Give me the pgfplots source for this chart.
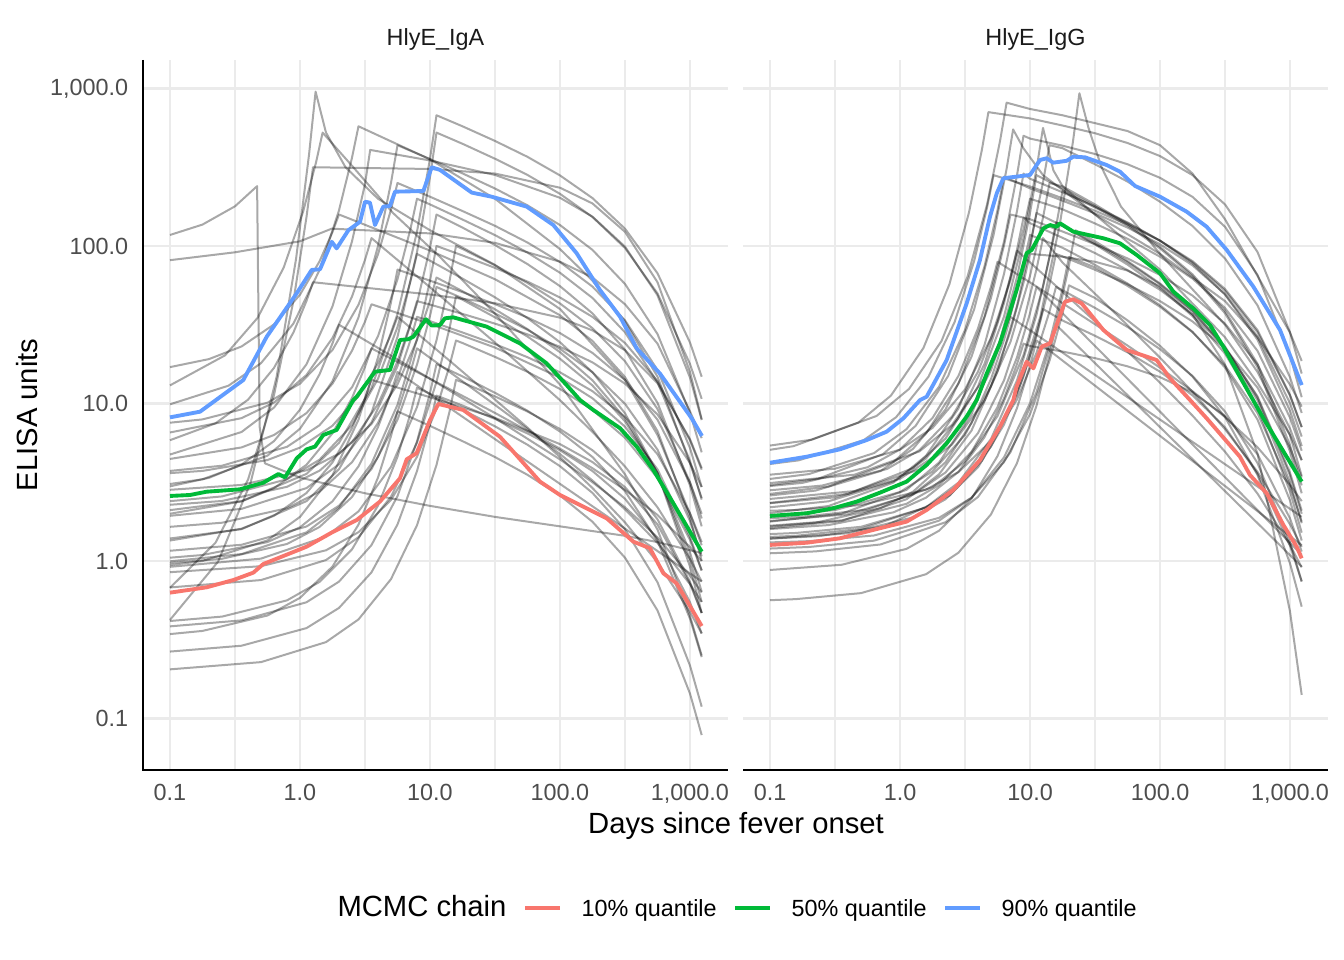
\documentclass[border=0pt]{standalone}
\usepackage{fontspec}
\setmainfont{Liberation Sans}
\usepackage{pgfplots}
\pgfplotsset{compat=1.18}
\definecolor{qred}{HTML}{F8766D}
\definecolor{qgreen}{HTML}{00BA38}
\definecolor{qblue}{HTML}{619CFF}
\definecolor{gridc}{HTML}{EBEBEB}
\definecolor{tickc}{HTML}{4D4D4D}
\definecolor{stripc}{HTML}{1A1A1A}
\pgfplotsset{
  panel/.style={
    anchor=south west, width=219.375bp, height=266.25bp, scale only axis,
    xmin=-1.2077, xmax=3.2923, ymin=-1.327, ymax=3.181,
    axis line style={draw=none},
    major tick length=0pt, minor tick length=0pt,
    xtick={-1,0,1,2,3},
    xticklabels={0.1,1.0,10.0,100.0,{1,000.0}},
    minor xtick={-0.5,0.5,1.5,2.5},
    ytick={-1,0,1,2,3},
    grid=both,
    major grid style={gridc, line width=1.0bp},
    minor grid style={gridc, line width=0.55bp},
    xticklabel style={font=\fontsize{8.8}{10}\selectfont, text=tickc, inner sep=0pt, anchor=north, yshift=-5.1bp},
    yticklabel style={font=\fontsize{8.8}{10}\selectfont, text=tickc, inner sep=0pt, anchor=east, xshift=-5.4bp},
  },
  chain/.style={black, opacity=0.34, line width=0.75bp, mark=none, line join=round},
  qlow/.style={qred, line width=1.45bp, mark=none, line join=round},
  qmid/.style={qgreen, line width=1.45bp, mark=none, line join=round},
  qhigh/.style={qblue, line width=1.45bp, mark=none, line join=round},
}
\begin{document}
\begin{tikzpicture}
\useasboundingbox (0,0) rectangle (504bp,360bp);
% ---------------- left panel: HlyE_IgA ----------------
\begin{axis}[panel, at={(53.625bp,71.25bp)},
  yticklabels={0.1,1.0,10.0,100.0,{1,000.0}}]
\addplot[chain] coordinates {(-1,2.07)(-0.75,2.136)(-0.5,2.252)(-0.33,2.38)(-0.31,0.85)(-0.27,0.62)(0,0.53)(0.5,0.43)(1,0.35)(1.5,0.28)(2,0.22)(2.5,0.16)(2.75,0.12)(3.09,0.05)};
\addplot[chain] coordinates {(-1,-0.374)(-0.63,-0.004)(-0.38,0.497)(-0.18,1.169)(-0.03,1.92)(0.07,2.584)(0.12,2.98)(0.2,2.72)(0.35,2.5)(0.6,2.3)(1,2.1)(1.5,1.88)(2,1.6)(2.5,1.15)(2.75,0.8)(3,0.3)(3.09,0.1)};
\addplot[chain] coordinates {(-1,1.115)(-0.576,1.306)(-0.326,1.544)(-0.126,1.862)(0.024,2.218)(0.124,2.533)(0.174,2.72)(0.41,2.5)(0.715,2.21)(1.077,1.93)(1.5,1.57)(2,1.12)(2.5,0.55)(2.75,0.2)(3,-0.35)(3.09,-0.6)};
\addplot[chain] coordinates {(-1,0.995)(-0.55,1.113)(-0.3,1.256)(-0.05,1.508)(0.15,1.847)(0.3,2.226)(0.4,2.561)(0.45,2.76)(1,2.55)(1.5,2.3)(2,1.98)(2.25,1.78)(2.5,1.52)(2.75,1.17)(3,0.62)(3.09,0.4)};
\addplot[chain] coordinates {(-1,-0.17)(-0.65,0.116)(-0.4,0.516)(-0.2,1.053)(-0.05,1.653)(0.05,2.184)(0.1,2.5)(1,2.489)(1.5,2.46)(2,2.37)(2.25,2.27)(2.5,2.09)(2.75,1.77)(3,1.2)(3.09,0.9)};
\addplot[chain] coordinates {(-1,0.676)(-0.45,0.819)(-0.2,0.974)(0.05,1.249)(0.25,1.617)(0.4,2.029)(0.5,2.393)(0.54,2.61)(1,2.543)(1.5,2.451)(2,2.306)(2.25,2.186)(2.5,1.996)(2.75,1.687)(3,1.164)(3.09,0.895)};
\addplot[chain] coordinates {(-1,0.489)(-0.75,0.519)(-0.25,0.669)(0,0.84)(0.25,1.142)(0.45,1.547)(0.6,2.0)(0.7,2.401)(0.75,2.64)(1,2.552)(1.25,2.461)(1.5,2.365)(1.75,2.258)(2,2.133)(2.25,1.975)(2.5,1.759)(2.75,1.441)(3,0.94)(3.09,0.69)};
\addplot[chain] coordinates {(-1,0.323)(-0.45,0.38)(0.05,0.553)(0.3,0.75)(0.55,1.099)(0.75,1.568)(0.9,2.091)(1,2.554)(1.05,2.83)(1.25,2.76)(1.5,2.667)(1.75,2.566)(2,2.448)(2.25,2.304)(2.5,2.11)(2.75,1.827)(3,1.387)(3.09,1.17)};
\addplot[chain] coordinates {(-1,0.143)(-0.45,0.202)(0.05,0.38)(0.3,0.583)(0.55,0.942)(0.75,1.423)(0.9,1.961)(1,2.437)(1.05,2.72)(1.25,2.649)(1.5,2.554)(1.75,2.451)(2,2.331)(2.25,2.184)(2.5,1.987)(2.75,1.699)(3,1.251)(3.09,1.03)};
\addplot[chain] coordinates {(-1,0.878)(-0.75,0.899)(-0.25,1.005)(0,1.126)(0.25,1.34)(0.45,1.627)(0.6,1.947)(0.7,2.231)(0.75,2.4)(1,2.313)(1.25,2.222)(1.5,2.128)(1.75,2.022)(2,1.898)(2.25,1.742)(2.5,1.528)(2.75,1.213)(3,0.717)(3.09,0.47)};
\addplot[chain] coordinates {(-1,1.91)(-0.5,1.96)(0,2.03)(0.244,2.11)(1,2.08)(1.5,2.02)(2,1.9)(2.25,1.8)(2.5,1.63)(2.75,1.38)(3,0.95)(3.09,0.78)};
\addplot[chain] coordinates {(-1,0.572)(-0.6,0.605)(-0.1,0.725)(0.15,0.862)(0.4,1.103)(0.6,1.427)(0.75,1.789)(0.85,2.109)(0.9,2.3)(1,2.264)(1.25,2.168)(1.5,2.069)(1.75,1.958)(2,1.83)(2.25,1.67)(2.5,1.452)(2.75,1.135)(3,0.636)(3.09,0.39)};
\addplot[chain] coordinates {(-1,0.287)(-0.45,0.331)(0.05,0.463)(0.3,0.614)(0.55,0.88)(0.75,1.237)(0.9,1.636)(1,1.99)(1.05,2.2)(1.25,2.117)(1.5,2.006)(1.75,1.885)(2,1.745)(2.25,1.572)(2.5,1.341)(2.75,1.004)(3,0.479)(3.09,0.22)};
\addplot[chain] coordinates {(-1,0.816)(-0.45,0.907)(-0.2,1.006)(0.05,1.181)(0.25,1.416)(0.4,1.679)(0.5,1.912)(0.55,2.05)(1,1.738)(1.5,1.387)(2,1.021)(2.25,0.82)(2.5,0.6)(2.75,0.341)(3,0.012)(3.09,-0.13)};
\addplot[chain] coordinates {(-1,0.38)(-0.6,0.41)(-0.1,0.519)(0.15,0.643)(0.4,0.862)(0.6,1.157)(0.75,1.486)(0.85,1.777)(0.9,1.95)(1,1.907)(1.25,1.793)(1.5,1.674)(1.75,1.542)(2,1.389)(2.25,1.198)(2.5,0.938)(2.75,0.559)(3,-0.036)(3.09,-0.33)};
\addplot[chain] coordinates {(-1,-0.037)(-0.3,0.015)(0.2,0.155)(0.45,0.315)(0.7,0.598)(0.9,0.977)(1.05,1.401)(1.15,1.777)(1.2,2.0)(1.25,1.981)(1.5,1.877)(1.75,1.765)(2,1.635)(2.25,1.478)(2.5,1.268)(2.75,0.965)(3,0.5)(3.09,0.27)};
\addplot[chain] coordinates {(-1,0.767)(-0.65,0.874)(-0.4,1.024)(-0.2,1.226)(-0.05,1.452)(0.05,1.651)(0.1,1.77)(1,1.692)(1.5,1.637)(2,1.545)(2.25,1.464)(2.5,1.338)(2.75,1.129)(3,0.774)(3.09,0.59)};
\addplot[chain] coordinates {(-1,0.648)(-0.45,0.721)(-0.2,0.8)(0.05,0.939)(0.25,1.126)(0.4,1.335)(0.5,1.52)(0.55,1.63)(1,1.505)(1.5,1.355)(2,1.164)(2.25,1.033)(2.5,0.853)(2.75,0.582)(3,0.153)(3.09,-0.06)};
\addplot[chain] coordinates {(-1,0.452)(-0.45,0.483)(0.05,0.576)(0.3,0.682)(0.55,0.87)(0.75,1.121)(0.9,1.403)(1,1.652)(1.05,1.8)(1.25,1.713)(1.5,1.598)(1.75,1.472)(2,1.326)(2.25,1.147)(2.5,0.906)(2.75,0.556)(3,0.01)(3.09,-0.26)};
\addplot[chain] coordinates {(-1,0.065)(-0.45,0.103)(0.05,0.219)(0.3,0.351)(0.55,0.584)(0.75,0.897)(0.9,1.247)(1,1.556)(1.05,1.74)(1.25,1.668)(1.5,1.572)(1.75,1.468)(2,1.347)(2.25,1.198)(2.5,0.998)(2.75,0.707)(3,0.254)(3.09,0.03)};
\addplot[chain] coordinates {(-1,-0.168)(-0.3,-0.121)(0.2,0.006)(0.45,0.151)(0.7,0.408)(0.9,0.752)(1.05,1.137)(1.15,1.477)(1.2,1.68)(1.25,1.659)(1.5,1.547)(1.75,1.425)(2,1.284)(2.25,1.114)(2.5,0.887)(2.75,0.559)(3,0.054)(3.09,-0.195)};
\addplot[chain] coordinates {(-1,0.558)(-0.75,0.572)(-0.25,0.641)(0,0.72)(0.25,0.859)(0.45,1.046)(0.6,1.255)(0.7,1.44)(0.75,1.55)(1,1.377)(1.25,1.202)(1.5,1.025)(1.75,0.847)(2,0.66)(2.25,0.463)(2.5,0.245)(2.75,-0.008)(3,-0.323)(3.09,-0.46)};
\addplot[chain] coordinates {(-1,-0.464)(-0.75,-0.444)(-0.25,-0.346)(0,-0.234)(0.25,-0.035)(0.45,0.231)(0.6,0.53)(0.7,0.793)(0.75,0.95)(1,0.858)(1.25,0.761)(1.5,0.66)(1.75,0.547)(2,0.416)(2.25,0.249)(2.5,0.021)(2.75,-0.314)(3,-0.842)(3.09,-1.105)};
\addplot[chain] coordinates {(-1,-0.381)(-0.6,-0.353)(-0.1,-0.25)(0.15,-0.133)(0.4,0.074)(0.6,0.352)(0.75,0.662)(0.85,0.937)(0.9,1.1)(1,1.062)(1.25,0.96)(1.5,0.855)(1.75,0.738)(2,0.602)(2.25,0.432)(2.5,0.201)(2.75,-0.135)(3,-0.664)(3.09,-0.925)};
\addplot[chain] coordinates {(-1,-0.415)(-0.45,-0.377)(0.05,-0.262)(0.3,-0.131)(0.55,0.101)(0.75,0.412)(0.9,0.759)(1,1.067)(1.05,1.25)(1.25,1.172)(1.5,1.068)(1.75,0.954)(2,0.822)(2.25,0.66)(2.5,0.443)(2.75,0.127)(3,-0.366)(3.09,-0.61)};
\addplot[chain] coordinates {(-1,-0.575)(-0.45,-0.538)(0.05,-0.426)(0.3,-0.298)(0.55,-0.072)(0.75,0.232)(0.9,0.571)(1,0.871)(1.05,1.05)(1.25,0.987)(1.5,0.902)(1.75,0.81)(2,0.703)(2.25,0.571)(2.5,0.395)(2.75,0.138)(3,-0.262)(3.09,-0.46)};
\addplot[chain] coordinates {(-1,-0.688)(-0.3,-0.642)(0.2,-0.515)(0.45,-0.371)(0.7,-0.115)(0.9,0.227)(1.05,0.61)(1.15,0.948)(1.2,1.15)(1.25,1.134)(1.5,1.045)(1.75,0.949)(2,0.838)(2.25,0.703)(2.5,0.524)(2.75,0.265)(3,-0.133)(3.09,-0.33)};
\addplot[chain] coordinates {(-1,-0.013)(-0.6,0.014)(-0.1,0.108)(0.15,0.216)(0.4,0.406)(0.6,0.661)(0.75,0.947)(0.85,1.2)(0.9,1.35)(1,1.29)(1.25,1.141)(1.5,0.991)(1.75,0.838)(2,0.679)(2.25,0.511)(2.5,0.328)(2.75,0.115)(3,-0.147)(3.09,-0.26)};
\addplot[chain] coordinates {(-1,-0.071)(-0.3,-0.033)(0.2,0.068)(0.45,0.183)(0.7,0.388)(0.9,0.661)(1.05,0.968)(1.15,1.239)(1.2,1.4)(1.25,1.384)(1.5,1.296)(1.75,1.201)(2,1.092)(2.25,0.959)(2.5,0.782)(2.75,0.527)(3,0.134)(3.09,-0.06)};
\addplot[chain] coordinates {(-1,0.021)(-0.75,0.038)(-0.25,0.12)(0,0.214)(0.25,0.379)(0.45,0.601)(0.6,0.85)(0.7,1.069)(0.75,1.2)(3.09,-0.13)};
\addplot[chain] coordinates {(-1,0.3)(-0.45,0.378)(-0.2,0.462)(0.05,0.611)(0.25,0.811)(0.4,1.035)(0.5,1.232)(0.55,1.35)(1,1.157)(1.5,0.94)(2,0.713)(2.25,0.589)(2.5,0.452)(2.75,0.292)(3,0.088)(3.09,0)};
\addplot[chain] coordinates {(-1,0.357)(-0.6,0.381)(-0.1,0.471)(0.15,0.573)(0.4,0.754)(0.6,0.996)(0.75,1.267)(0.85,1.507)(0.9,1.65)(1,1.628)(1.25,1.569)(1.5,1.507)(1.75,1.439)(2,1.36)(2.25,1.261)(2.5,1.126)(2.75,0.93)(3,0.622)(3.09,0.47)};
\addplot[chain] coordinates {(-1,0.474)(-0.7,0.528)(-0.45,0.612)(-0.2,0.761)(0,0.961)(0.15,1.185)(0.25,1.382)(0.3,1.5)(1,1.157)(1.5,0.907)(2,0.645)(2.25,0.5)(2.5,0.341)(2.75,0.15)(3,-0.093)(3.09,-0.2)};
\addplot[chain] coordinates {(-1,-0.002)(-0.45,0.044)(0.05,0.182)(0.3,0.34)(0.55,0.618)(0.75,0.992)(0.9,1.41)(1,1.78)(1.05,2.0)(1.25,1.94)(1.5,1.861)(1.75,1.774)(2,1.673)(2.25,1.55)(2.5,1.384)(2.75,1.142)(3,0.766)(3.09,0.58)};
\addplot[chain] coordinates {(-1,1.231)(-0.7,1.282)(-0.45,1.362)(-0.2,1.502)(0,1.691)(0.15,1.902)(0.25,2.089)(0.3,2.2)(1,1.971)(1.5,1.789)(2,1.56)(2.25,1.397)(2.5,1.168)(2.75,0.825)(3,0.275)(3.09,0)};
\addplot[chain] coordinates {(-1,-0.026)(-0.75,0.0)(-0.25,0.131)(0,0.28)(0.25,0.544)(0.45,0.897)(0.6,1.292)(0.7,1.642)(0.75,1.85)(1,1.78)(1.25,1.707)(1.5,1.631)(1.75,1.546)(2,1.447)(2.25,1.321)(2.5,1.149)(2.75,0.897)(3,0.498)(3.09,0.3)};
\addplot[chain] coordinates {(-1,0.13)(-0.45,0.205)(-0.2,0.287)(0.05,0.432)(0.25,0.626)(0.4,0.843)(0.5,1.036)(0.55,1.15)(1,1.04)(1.5,0.909)(2,0.742)(2.25,0.628)(2.5,0.469)(2.75,0.232)(3,-0.144)(3.09,-0.33)};
\addplot[chain] coordinates {(-1,0.217)(-0.6,0.243)(-0.1,0.335)(0.15,0.44)(0.4,0.627)(0.6,0.876)(0.75,1.156)(0.85,1.403)(0.9,1.55)(1,1.523)(1.25,1.451)(1.5,1.377)(1.75,1.294)(2,1.198)(2.25,1.078)(2.5,0.915)(2.75,0.678)(3,0.304)(3.09,0.12)};
% quantiles
\addplot[qlow] coordinates {(-1,-0.201)(-0.718,-0.167)(-0.513,-0.121)(-0.359,-0.074)(-0.282,-0.019)(-0.154,0.023)(0.051,0.091)(0.256,0.186)(0.436,0.26)(0.615,0.377)(0.769,0.525)(0.821,0.646)(0.897,0.684)(1.0,0.895)(1.064,0.997)(1.256,0.959)(1.538,0.789)(1.846,0.504)(2.0,0.419)(2.359,0.271)(2.564,0.123)(2.692,0.081)(2.795,-0.078)(2.897,-0.142)(3.09,-0.413)};
\addplot[qmid] coordinates {(-1,0.413)(-0.846,0.419)(-0.718,0.44)(-0.462,0.455)(-0.282,0.497)(-0.167,0.552)(-0.115,0.531)(-0.025,0.652)(0.051,0.709)(0.115,0.726)(0.179,0.80)(0.282,0.832)(0.41,1.022)(0.436,1.043)(0.577,1.202)(0.692,1.213)(0.769,1.403)(0.833,1.408)(0.872,1.424)(0.969,1.535)(1.013,1.495)(1.077,1.498)(1.115,1.541)(1.179,1.547)(1.436,1.488)(1.692,1.382)(1.897,1.255)(2.051,1.117)(2.154,1.022)(2.256,0.959)(2.462,0.843)(2.59,0.726)(2.718,0.578)(2.872,0.366)(3.09,0.059)};
\addplot[qhigh] coordinates {(-1,0.912)(-0.769,0.948)(-0.436,1.149)(-0.256,1.424)(-0.025,1.70)(0.09,1.848)(0.154,1.852)(0.244,2.027)(0.282,1.985)(0.372,2.10)(0.462,2.154)(0.50,2.281)(0.538,2.275)(0.577,2.133)(0.641,2.25)(0.692,2.254)(0.731,2.345)(0.949,2.349)(1.013,2.50)(1.077,2.483)(1.321,2.339)(1.474,2.313)(1.744,2.25)(1.949,2.133)(2.128,1.954)(2.308,1.72)(2.462,1.551)(2.59,1.35)(2.769,1.19)(3.013,0.906)(3.092,0.794)};
\end{axis}
% ---------------- right panel: HlyE_IgG ----------------
\begin{axis}[panel, at={(278.625bp,71.25bp)}, yticklabels={{},{},{},{},{}}]
\addplot[chain] coordinates {(-1,0.733)(-0.68,0.77)(-0.18,0.921)(0.07,1.093)(0.32,1.398)(0.52,1.807)(0.67,2.265)(0.77,2.669)(0.82,2.91)(1.0,2.87)(1.25,2.83)(1.5,2.78)(1.75,2.73)(2.0,2.64)(2.25,2.46)(2.5,2.17)(2.75,1.81)(3.0,1.45)(3.09,1.27)};
\addplot[chain] coordinates {(-1,0.706)(-0.82,0.729)(-0.32,0.879)(-0.07,1.05)(0.18,1.352)(0.38,1.757)(0.53,2.211)(0.63,2.611)(0.68,2.85)(1.0,2.81)(1.25,2.765)(1.5,2.716)(1.75,2.654)(2.0,2.571)(2.25,2.45)(2.5,2.264)(2.75,1.962)(3.0,1.452)(3.09,1.19)};
\addplot[chain] coordinates {(-1,0.481)(-0.63,0.522)(-0.13,0.679)(0.12,0.858)(0.37,1.174)(0.57,1.597)(0.72,2.071)(0.82,2.49)(0.87,2.74)(0.95,2.62)(1.1,2.45)(1.5,2.2)(2.0,1.85)(2.5,1.42)(2.75,1.13)(3.0,0.8)(3.09,0.64)};
\addplot[chain] coordinates {(-1,0.426)(-0.55,0.473)(-0.05,0.63)(0.2,0.809)(0.45,1.127)(0.65,1.552)(0.8,2.028)(0.9,2.449)(0.95,2.7)(1.0,2.682)(1.25,2.637)(1.5,2.584)(1.75,2.519)(2.0,2.433)(2.25,2.312)(2.5,2.122)(2.75,1.817)(3.0,1.304)(3.09,1.04)};
\addplot[chain] coordinates {(-1,0.142)(-0.62,0.158)(-0.12,0.22)(0.38,0.414)(0.63,0.636)(0.88,1.027)(1.08,1.553)(1.23,2.141)(1.33,2.66)(1.38,2.97)(1.45,2.75)(1.55,2.5)(1.7,2.25)(2.0,1.95)(2.5,1.5)(2.75,1.2)(3.0,0.8)(3.09,0.54)};
\addplot[chain] coordinates {(-1,0.369)(-0.4,0.426)(0.1,0.59)(0.35,0.777)(0.6,1.108)(0.8,1.552)(0.95,2.049)(1.05,2.488)(1.1,2.75)(1.18,2.48)(1.25,2.38)(1.5,2.2)(2.0,1.95)(2.5,1.65)(2.75,1.42)(3.0,1.12)(3.09,0.98)};
\addplot[chain] coordinates {(-1,0.495)(-0.35,0.548)(0.15,0.696)(0.4,0.864)(0.65,1.163)(0.85,1.562)(1.0,2.009)(1.1,2.405)(1.15,2.64)(1.25,2.621)(1.5,2.519)(1.75,2.409)(2.0,2.281)(2.25,2.127)(2.5,1.921)(2.75,1.623)(3.0,1.166)(3.09,0.94)};
\addplot[chain] coordinates {(-1,0.616)(-0.78,0.639)(-0.28,0.767)(-0.03,0.913)(0.22,1.171)(0.42,1.517)(0.57,1.904)(0.67,2.246)(0.72,2.45)(1.0,2.378)(1.25,2.303)(1.5,2.224)(1.75,2.136)(2.0,2.034)(2.25,1.904)(2.5,1.727)(2.75,1.466)(3.0,1.055)(3.09,0.85)};
\addplot[chain] coordinates {(-1,0.521)(-0.7,0.552)(-0.2,0.685)(0.05,0.837)(0.3,1.106)(0.5,1.467)(0.65,1.871)(0.75,2.227)(0.8,2.44)(1.0,2.366)(1.25,2.288)(1.5,2.207)(1.75,2.117)(2.0,2.011)(2.25,1.877)(2.5,1.694)(2.75,1.425)(3.0,1.001)(3.09,0.79)};
\addplot[chain] coordinates {(-1,0.304)(-0.55,0.349)(-0.05,0.498)(0.2,0.668)(0.45,0.969)(0.65,1.372)(0.8,1.823)(0.9,2.222)(0.95,2.46)(1.0,2.427)(1.25,2.341)(1.5,2.251)(1.75,2.15)(2.0,2.034)(2.25,1.889)(2.5,1.692)(2.75,1.405)(3.0,0.953)(3.09,0.73)};
\addplot[chain] coordinates {(-1,0.25)(-0.45,0.3)(0.05,0.452)(0.3,0.625)(0.55,0.932)(0.75,1.342)(0.9,1.802)(1.0,2.208)(1.05,2.45)(1.25,2.365)(1.5,2.252)(1.75,2.129)(2.0,1.985)(2.25,1.81)(2.5,1.573)(2.75,1.23)(3.0,0.695)(3.09,0.43)};
\addplot[chain] coordinates {(-1,0.416)(-0.65,0.447)(-0.15,0.571)(0.1,0.712)(0.35,0.962)(0.55,1.297)(0.7,1.671)(0.8,2.003)(0.85,2.2)(1.0,2.17)(1.25,2.092)(1.5,2.011)(1.75,1.921)(2.0,1.816)(2.25,1.685)(2.5,1.507)(2.75,1.248)(3.0,0.841)(3.09,0.64)};
\addplot[chain] coordinates {(-1,0.341)(-0.55,0.379)(-0.05,0.506)(0.2,0.651)(0.45,0.908)(0.65,1.252)(0.8,1.637)(0.9,1.977)(0.95,2.18)(1.0,2.145)(1.25,2.052)(1.5,1.955)(1.75,1.847)(2.0,1.722)(2.25,1.566)(2.5,1.354)(2.75,1.045)(3.0,0.56)(3.09,0.32)};
\addplot[chain] coordinates {(-1,0.208)(-0.45,0.254)(0.05,0.392)(0.3,0.55)(0.55,0.828)(0.75,1.202)(0.9,1.62)(1.0,1.99)(1.05,2.21)(1.25,2.127)(1.5,2.017)(1.75,1.897)(2.0,1.757)(2.25,1.586)(2.5,1.355)(2.75,1.02)(3.0,0.498)(3.09,0.24)};
\addplot[chain] coordinates {(-1,0.153)(-0.8,0.16)(-0.3,0.204)(0.2,0.341)(0.45,0.498)(0.7,0.775)(0.9,1.147)(1.05,1.563)(1.15,1.931)(1.2,2.15)(1.25,2.128)(1.5,2.01)(1.75,1.882)(2.0,1.734)(2.25,1.555)(2.5,1.317)(2.75,0.972)(3.0,0.442)(3.09,0.18)};
\addplot[chain] coordinates {(-1,0.367)(-0.5,0.404)(0,0.522)(0.25,0.656)(0.5,0.894)(0.7,1.212)(0.85,1.568)(0.95,1.883)(1.0,2.07)(1.25,1.989)(1.5,1.88)(1.75,1.762)(2.0,1.624)(2.25,1.455)(2.5,1.228)(2.75,0.898)(3.0,0.384)(3.09,0.13)};
\addplot[chain] coordinates {(-1,0.254)(-0.4,0.297)(0.1,0.421)(0.35,0.562)(0.6,0.812)(0.8,1.147)(0.95,1.521)(1.05,1.853)(1.1,2.05)(1.25,1.895)(1.5,1.697)(1.75,1.497)(2.0,1.291)(2.25,1.074)(2.5,0.837)(2.75,0.566)(3.0,0.233)(3.09,0.09)};
\addplot[chain] coordinates {(-1,0.449)(-0.6,0.479)(-0.1,0.584)(0.15,0.704)(0.4,0.917)(0.6,1.202)(0.75,1.52)(0.85,1.802)(0.9,1.97)(1.0,1.896)(1.25,1.709)(1.5,1.522)(1.75,1.331)(2.0,1.132)(2.25,0.923)(2.5,0.694)(2.75,0.428)(3.0,0.101)(3.09,-0.04)};
\addplot[chain] coordinates {(-1,0.171)(-0.8,0.178)(-0.3,0.217)(0.2,0.339)(0.45,0.479)(0.7,0.726)(0.9,1.057)(1.05,1.427)(1.15,1.755)(1.2,1.95)(1.25,1.934)(1.5,1.849)(1.75,1.757)(2.0,1.65)(2.25,1.521)(2.5,1.349)(2.75,1.101)(3.0,0.719)(3.09,0.53)};
\addplot[chain] coordinates {(-1,0.079)(-0.7,0.089)(-0.2,0.129)(0.3,0.256)(0.55,0.401)(0.8,0.658)(1.0,1.002)(1.15,1.387)(1.25,1.727)(1.3,1.93)(1.5,1.864)(1.75,1.747)(2.0,1.614)(2.25,1.453)(2.5,1.241)(2.75,0.939)(3.0,0.477)(3.09,0.25)};
\addplot[chain] coordinates {(-1,0.224)(-0.45,0.258)(0.05,0.363)(0.3,0.482)(0.55,0.693)(0.75,0.977)(0.9,1.293)(1.0,1.573)(1.05,1.74)(3.09,0.04)};
\addplot[chain] coordinates {(-1,0.319)(-0.8,0.324)(-0.3,0.355)(0.2,0.453)(0.45,0.565)(0.7,0.762)(0.9,1.026)(1.05,1.322)(1.15,1.584)(1.2,1.74)(1.25,1.719)(1.5,1.607)(1.75,1.486)(2.0,1.345)(2.25,1.175)(2.5,0.949)(2.75,0.622)(3.0,0.119)(3.09,-0.13)};
\addplot[chain] coordinates {(-1,0.118)(-0.7,0.126)(-0.2,0.162)(0.3,0.274)(0.55,0.402)(0.8,0.628)(1.0,0.932)(1.15,1.271)(1.25,1.571)(1.3,1.75)(1.5,1.67)(1.75,1.528)(2.0,1.366)(2.25,1.171)(2.5,0.914)(2.75,0.546)(3.0,-0.015)(3.09,-0.29)};
\addplot[chain] coordinates {(-1,0.203)(-0.55,0.228)(-0.05,0.309)(0.2,0.402)(0.45,0.566)(0.65,0.786)(0.8,1.033)(0.9,1.25)(0.95,1.38)(1.0,1.365)(1.25,1.33)(1.5,1.288)(1.75,1.236)(2.0,1.167)(2.25,1.071)(2.5,0.921)(2.75,0.678)(3.0,0.27)(3.09,0.06)};
\addplot[chain] coordinates {(-1,-0.057)(-0.45,-0.024)(0.05,0.077)(0.3,0.192)(0.55,0.395)(0.75,0.666)(0.9,0.971)(1.0,1.24)(1.05,1.4)(3.09,0.1)};
\addplot[chain] coordinates {(-1,-0.249)(-0.8,-0.242)(-0.3,-0.204)(0.2,-0.084)(0.45,0.053)(0.7,0.296)(0.9,0.622)(1.05,0.986)(1.15,1.308)(1.2,1.5)(3.09,-0.036)};
\addplot[chain] coordinates {(-1,0.287)(-0.5,0.323)(0,0.438)(0.25,0.569)(0.5,0.801)(0.7,1.112)(0.85,1.459)(0.95,1.767)(1.0,1.95)(1.25,1.932)(1.5,1.9)(1.75,1.844)(2.0,1.743)(2.25,1.565)(2.5,1.247)(2.75,0.682)(3.0,-0.321)(3.09,-0.85)};
\addplot[chain] coordinates {(-1,0.548)(-0.5,0.586)(0,0.707)(0.25,0.845)(0.5,1.089)(0.7,1.417)(0.85,1.783)(0.95,2.107)(1.0,2.3)(1.25,2.233)(1.5,2.143)(1.75,2.046)(2.0,1.932)(2.25,1.793)(2.5,1.606)(2.75,1.334)(3.0,0.91)(3.09,0.7)};
\addplot[chain] coordinates {(-1,0.272)(-0.75,0.281)(-0.25,0.326)(0.25,0.469)(0.5,0.632)(0.75,0.92)(0.95,1.307)(1.1,1.74)(1.2,2.122)(1.25,2.35)(1.5,2.244)(1.75,2.146)(2.0,2.034)(2.25,1.897)(2.5,1.716)(2.75,1.453)(3.0,1.05)(3.09,0.85)};
\addplot[chain] coordinates {(-1,0.142)(-0.4,0.176)(0.1,0.277)(0.35,0.392)(0.6,0.595)(0.8,0.866)(0.95,1.171)(1.05,1.44)(1.1,1.6)(1.25,1.527)(1.5,1.43)(1.75,1.325)(2.0,1.202)(2.25,1.052)(2.5,0.849)(2.75,0.555)(3.0,0.097)(3.09,-0.13)};
\addplot[chain] coordinates {(-1,0.476)(-0.75,0.496)(-0.25,0.595)(0,0.708)(0.25,0.908)(0.45,1.176)(0.6,1.477)(0.7,1.742)(0.75,1.9)(1.0,1.769)(1.25,1.637)(1.5,1.503)(1.75,1.368)(2.0,1.227)(2.25,1.078)(2.5,0.914)(2.75,0.722)(3.0,0.483)(3.09,0.38)};
\addplot[chain] coordinates {(-1,0.219)(-0.65,0.243)(-0.15,0.335)(0.1,0.44)(0.35,0.627)(0.55,0.876)(0.7,1.156)(0.8,1.403)(0.85,1.55)(3.09,0.28)};
\addplot[chain] coordinates {(-1,0.049)(-0.65,0.061)(-0.15,0.105)(0.35,0.246)(0.6,0.407)(0.85,0.691)(1.05,1.072)(1.2,1.498)(1.3,1.875)(1.35,2.1)(1.5,2.03)(1.75,1.904)(2.0,1.762)(2.25,1.589)(2.5,1.362)(2.75,1.038)(3.0,0.543)(3.09,0.3)};
\addplot[chain] coordinates {(-1,0.394)(-0.35,0.444)(0.15,0.582)(0.4,0.74)(0.65,1.018)(0.85,1.392)(1.0,1.81)(1.1,2.18)(1.15,2.4)(1.25,2.379)(1.5,2.264)(1.75,2.139)(2.0,1.995)(2.25,1.82)(2.5,1.588)(2.75,1.252)(3.0,0.735)(3.09,0.48)};
% quantiles
\addplot[qlow] coordinates {(-1,0.102)(-0.718,0.116)(-0.462,0.144)(-0.154,0.208)(0.051,0.25)(0.205,0.324)(0.41,0.451)(0.615,0.641)(0.769,0.853)(0.872,1.022)(0.897,1.107)(0.974,1.265)(1.026,1.223)(1.09,1.361)(1.154,1.382)(1.269,1.646)(1.333,1.662)(1.397,1.636)(1.564,1.467)(1.744,1.34)(1.974,1.276)(2.077,1.16)(2.231,1.022)(2.359,0.906)(2.615,0.662)(2.692,0.546)(2.821,0.43)(2.949,0.229)(3.051,0.091)(3.09,0.017)};
\addplot[qmid] coordinates {(-1,0.286)(-0.718,0.303)(-0.513,0.335)(-0.333,0.377)(-0.154,0.434)(0.051,0.504)(0.205,0.61)(0.359,0.747)(0.513,0.917)(0.59,1.022)(0.667,1.19)(0.769,1.382)(0.897,1.721)(0.974,1.954)(1.013,1.975)(1.103,2.112)(1.154,2.133)(1.205,2.122)(1.231,2.144)(1.333,2.091)(1.564,2.049)(1.692,2.017)(1.821,1.943)(2.0,1.827)(2.103,1.71)(2.256,1.604)(2.385,1.498)(2.487,1.361)(2.615,1.17)(2.795,0.906)(3.09,0.504)};
\addplot[qhigh] coordinates {(-1,0.624)(-0.718,0.662)(-0.462,0.709)(-0.256,0.768)(-0.103,0.821)(0.026,0.906)(0.154,1.022)(0.205,1.043)(0.359,1.276)(0.513,1.636)(0.615,1.911)(0.692,2.186)(0.744,2.334)(0.795,2.43)(1.0,2.451)(1.077,2.546)(1.128,2.557)(1.179,2.529)(1.282,2.541)(1.333,2.567)(1.423,2.563)(1.59,2.514)(1.692,2.472)(1.808,2.381)(2.0,2.313)(2.205,2.218)(2.359,2.122)(2.513,1.975)(2.718,1.742)(2.923,1.467)(3.09,1.117)};
\end{axis}
% axis lines
\draw[black, line width=1.07bp] (53.625bp,337.5bp) -- (53.625bp,71.25bp) -- (273bp,71.25bp);
\draw[black, line width=1.07bp] (278.625bp,71.25bp) -- (498bp,71.25bp);
% strip titles
\node[anchor=base, inner sep=0pt, text=stripc, font=\fontsize{8.8}{10}\selectfont] at (163.3bp,342.75bp) {HlyE\_IgA};
\node[anchor=base, inner sep=0pt, text=stripc, font=\fontsize{8.8}{10}\selectfont] at (388.3bp,342.75bp) {HlyE\_IgG};
% axis titles
\node[rotate=90, anchor=base, inner sep=0pt, font=\fontsize{11}{13}\selectfont] at (14.06bp,204.4bp) {ELISA units};
\node[anchor=base, inner sep=0pt, font=\fontsize{11}{13}\selectfont] at (276bp,47.25bp) {Days since fever onset};
% legend
\node[anchor=base west, inner sep=0pt, font=\fontsize{11}{13}\selectfont] at (126.375bp,16.3bp) {MCMC chain};
\draw[qred, line width=1.45bp] (196.875bp,19.6bp) -- (210bp,19.6bp);
\node[anchor=base west, inner sep=0pt, font=\fontsize{8.8}{10}\selectfont] at (217.875bp,16.3bp) {10\% quantile};
\draw[qgreen, line width=1.45bp] (275.625bp,19.6bp) -- (288.75bp,19.6bp);
\node[anchor=base west, inner sep=0pt, font=\fontsize{8.8}{10}\selectfont] at (296.625bp,16.3bp) {50\% quantile};
\draw[qblue, line width=1.45bp] (354.375bp,19.6bp) -- (367.5bp,19.6bp);
\node[anchor=base west, inner sep=0pt, font=\fontsize{8.8}{10}\selectfont] at (375.375bp,16.3bp) {90\% quantile};
\end{tikzpicture}
\end{document}
